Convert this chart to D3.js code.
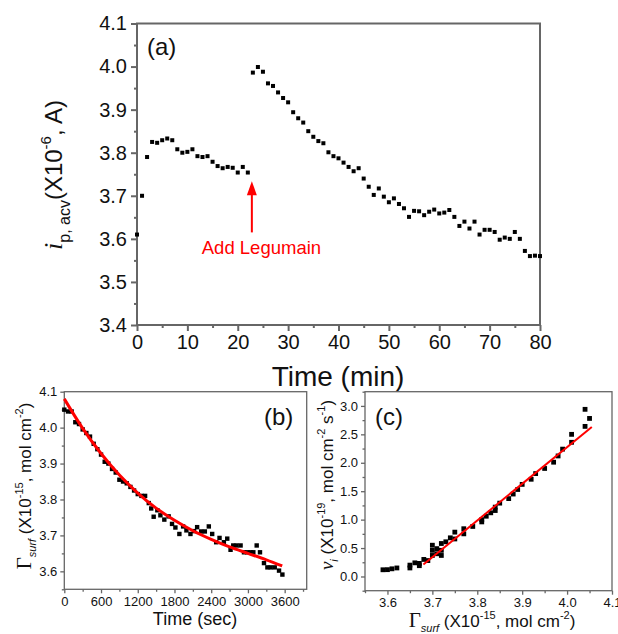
<!DOCTYPE html>
<html><head><meta charset="utf-8">
<script src="https://cdn.jsdelivr.net/npm/d3@7"></script>
<style>body{margin:0;background:#fff}svg{display:block}text{font-family:Arial,"Liberation Sans",sans-serif}</style>
</head><body>
<svg id="c" width="618" height="634"></svg>
<script>
// ---------- Panel (a) data ----------
const timeMin = [0,1,2,3,4,5,6,7,8,9,10,11,12,13,14,15,16,17,18,19,20,21,22,
  23,24,25,26,27,28,29,30,31,32,33,34,35,36,37,38,39,40,41,42,43,44,45,46,47,48,49,50,
  51,52,53,54,55,56,57,58,59,60,61,62,63,64,65,66,67,68,69,70,71,72,73,74,75,76,77,78,79,80];
const currentA = [3.61,3.70,3.79,3.825,3.823,3.829,3.833,3.829,3.808,3.800,3.802,3.808,3.792,3.790,3.792,3.779,3.769,3.764,3.767,3.765,3.754,3.767,3.754,
  3.986,3.999,3.988,3.961,3.955,3.940,3.927,3.917,3.894,3.880,3.870,3.850,3.837,3.827,3.822,3.801,3.792,3.787,3.777,3.767,3.757,3.764,3.740,3.721,3.702,3.717,3.698,3.685,
  3.694,3.681,3.671,3.651,3.665,3.664,3.655,3.663,3.668,3.659,3.661,3.667,3.651,3.630,3.640,3.624,3.640,3.610,3.621,3.621,3.616,3.598,3.603,3.600,3.616,3.600,3.572,3.560,3.561,3.560];
const xTicksA = [0,10,20,30,40,50,60,70,80];
const yTicksA = [3.4,3.5,3.6,3.7,3.8,3.9,4.0,4.1];
const arrowA = {t:22.8, tip:3.734, tail:3.615};
const noteA = {t:24.7, v:3.565, text:"Add Legumain"};

// ---------- Panel (b) data ----------
const timeSec = [0,60,120,180,240,300,360,420,480,540,600,660,720,780,840,900,960,1020,1080,1140,1200,1260,1320,1380,1420,1460,1520,1570,1634,1705,1760,1815,1880,1941,1995,2061,2120,2170,2236,2296,2361,2416,2481,2536,2607,2662,2716,2760,2815,2880,2935,2990,3044,3088,3143,3197,3262,3318,3372,3438,3508,3563];
const gammaB = [4.05,4.045,4.045,4.015,4.01,3.995,3.985,3.975,3.955,3.94,3.925,3.905,3.9,3.885,3.875,3.855,3.85,3.845,3.835,3.825,3.815,3.81,3.81,3.79,3.775,3.752,3.77,3.756,3.744,3.753,3.732,3.722,3.704,3.725,3.714,3.704,3.712,3.723,3.711,3.711,3.725,3.704,3.681,3.693,3.681,3.691,3.660,3.672,3.672,3.672,3.653,3.653,3.653,3.653,3.672,3.653,3.623,3.611,3.611,3.611,3.602,3.591];
const fitTimeB = [0,300,600,900,1200,1500,1800,2100,2400,2700,3000,3300,3560];
const fitGammaB = [4.08,3.998,3.928,3.868,3.818,3.776,3.742,3.713,3.689,3.668,3.650,3.632,3.615];
const xTicksB = [0,600,1200,1800,2400,3000,3600];
const yTicksB = [3.6,3.7,3.8,3.9,4.0,4.1];

// ---------- Panel (c) data ----------
const gammaC = [3.590,3.600,3.610,3.621,3.650,3.650,3.661,3.671,3.671,3.681,3.690,3.700,3.700,3.700,3.710,3.710,3.720,3.720,3.720,3.730,3.740,3.750,3.750,3.770,3.770,3.790,3.810,3.810,3.820,3.830,3.840,3.840,3.850,3.870,3.880,3.890,3.900,3.920,3.930,3.950,3.970,3.980,3.990,4.010,4.010,4.040,4.040,4.050];
const rateC = [0.118,0.12,0.135,0.15,0.15,0.20,0.24,0.19,0.23,0.30,0.28,0.37,0.55,0.46,0.40,0.49,0.37,0.58,0.46,0.61,0.68,0.66,0.78,0.75,0.84,0.88,0.96,1.00,1.06,1.12,1.16,1.22,1.29,1.37,1.45,1.53,1.62,1.71,1.81,1.90,2.01,2.12,2.24,2.36,2.50,2.64,2.94,2.78];
const fitGammaC = [3.68,4.055];
const fitRateC = [0.21,2.63];
const xTicksC = [3.6,3.7,3.8,3.9,4.0,4.1];
const yTicksC = [0.0,0.5,1.0,1.5,2.0,2.5,3.0];

// ---------- drawing ----------
const svg = d3.select("#c");
const AX = "#666";

function richText(sel, parts, base) {
  let cur = 0;
  parts.forEach(p => {
    const shift = p.s === "sub" ? 0.32*base : p.s === "sup" ? -0.45*base : 0;
    const ts = sel.append("tspan").attr("dy", shift - cur).text(p.t)
      .attr("font-size", p.size || (p.s ? base*0.65 : base));
    cur = shift;
    if (p.i) ts.attr("font-style", "italic");
    if (p.f) ts.attr("font-family", p.f);
  });
}

function panel(o) {
  const g = svg.append("g");
  const [x0, x1] = o.x.range(), [y0, y1] = o.y.range();
  g.append("g").attr("transform", `translate(0,${y0})`)
    .call(d3.axisBottom(o.x).tickValues(o.xMinor).tickSize(o.minor).tickFormat(""))
    .call(s => { s.select(".domain").remove(); s.selectAll("line").attr("stroke", AX).attr("stroke-width", o.sw); });
  g.append("g").attr("transform", `translate(${x0},0)`)
    .call(d3.axisLeft(o.y).tickValues(o.yMinor).tickSize(o.minor).tickFormat(""))
    .call(s => { s.select(".domain").remove(); s.selectAll("line").attr("stroke", AX).attr("stroke-width", o.sw); });
  g.append("g").attr("transform", `translate(0,${y0})`)
    .call(d3.axisBottom(o.x).tickValues(o.xTicks).tickSize(o.major).tickPadding(o.xPad).tickFormat(o.xFmt))
    .call(s => { s.select(".domain").remove(); s.selectAll("line").attr("stroke", AX).attr("stroke-width", o.sw);
      s.selectAll("text").attr("font-size", o.fs).attr("fill", "#111").attr("font-family", "Arial, 'Liberation Sans', sans-serif"); });
  g.append("g").attr("transform", `translate(${x0},0)`)
    .call(d3.axisLeft(o.y).tickValues(o.yTicks).tickSize(o.major).tickPadding(o.yPad).tickFormat(o.yFmt))
    .call(s => { s.select(".domain").remove(); s.selectAll("line").attr("stroke", AX).attr("stroke-width", o.sw);
      s.selectAll("text").attr("font-size", o.fs).attr("fill", "#111").attr("font-family", "Arial, 'Liberation Sans', sans-serif"); });
  g.append("rect").attr("x", x0).attr("y", y1).attr("width", x1 - x0).attr("height", y0 - y1)
    .attr("fill", "none").attr("stroke", AX).attr("stroke-width", o.sw);
  return g;
}

// Panel (a)
const xA = d3.scaleLinear().domain([0, 80]).range([137, 540]);
const yA = d3.scaleLinear().domain([3.4, 4.1]).range([325, 23.5]);
panel({x: xA, y: yA, xTicks: xTicksA, yTicks: yTicksA,
  xMinor: [5,15,25,35,45,55,65,75], yMinor: [3.45,3.55,3.65,3.75,3.85,3.95,4.05],
  major: 6, minor: 3, sw: 2, fs: 20, xPad: 4, yPad: 4,
  xFmt: d3.format("d"), yFmt: d3.format(".1f")});
svg.append("g").selectAll("rect").data(timeMin.map((t, i) => [t, currentA[i]])).join("rect")
  .attr("x", d => xA(d[0]) - 2).attr("y", d => yA(d[1]) - 2).attr("width", 4).attr("height", 4).attr("fill", "#000");
svg.append("line").attr("x1", xA(arrowA.t)).attr("x2", xA(arrowA.t))
  .attr("y1", yA(arrowA.tail)).attr("y2", yA(arrowA.tip) + 10).attr("stroke", "#f00").attr("stroke-width", 2);
svg.append("path").attr("d", `M${xA(arrowA.t)},${yA(arrowA.tip)} l-5,14 l10,0 z`).attr("fill", "#f00");
svg.append("text").attr("x", xA(noteA.t)).attr("y", yA(noteA.v)).attr("text-anchor", "middle")
  .attr("font-size", 18.5).attr("fill", "#f00").text(noteA.text);
svg.append("text").attr("x", 147).attr("y", 55).attr("font-size", 24).attr("fill", "#111").text("(a)");
svg.append("text").attr("x", 338).attr("y", 386).attr("text-anchor", "middle").attr("font-size", 28).attr("fill", "#111").text("Time (min)");
const ylA = svg.append("text").attr("transform", "translate(62,175) rotate(-90)").attr("text-anchor", "middle").attr("fill", "#111");
richText(ylA, [{t: "i", i: true, size: 26, f: "'Liberation Serif', serif"}, {t: "p, acv", s: "sub", size: 16}, {t: "(X10"}, {t: "-6", s: "sup", size: 15}, {t: ", A)"}], 24);

// Panel (b)
const xB = d3.scaleLinear().domain([0, 3960]).range([64.3, 306.7]);
const yB = d3.scaleLinear().domain([3.55, 4.1]).range([589.3, 391.7]);
panel({x: xB, y: yB, xTicks: xTicksB, yTicks: yTicksB,
  xMinor: [300,900,1500,2100,2700,3300,3900], yMinor: [3.55,3.65,3.75,3.85,3.95,4.05],
  major: 4, minor: 2.5, sw: 1.3, fs: 13, xPad: 3, yPad: 3,
  xFmt: d3.format("d"), yFmt: d3.format(".1f")});
svg.append("g").selectAll("rect").data(timeSec.map((t, i) => [t, gammaB[i]])).join("rect")
  .attr("x", d => xB(d[0]) - 2.2).attr("y", d => yB(d[1]) - 2.2).attr("width", 4.4).attr("height", 4.4).attr("fill", "#000");
svg.append("path").datum(fitTimeB.map((t, i) => [t, fitGammaB[i]]))
  .attr("d", d3.line().x(d => xB(d[0])).y(d => yB(d[1])).curve(d3.curveMonotoneX))
  .attr("fill", "none").attr("stroke", "#f00").attr("stroke-width", 3);
svg.append("text").attr("x", 264).attr("y", 425).attr("font-size", 24).attr("fill", "#111").text("(b)");
svg.append("text").attr("x", 195).attr("y", 625).attr("text-anchor", "middle").attr("font-size", 18).attr("fill", "#111").text("Time (sec)");
const ylB = svg.append("text").attr("transform", "translate(31,486) rotate(-90)").attr("text-anchor", "middle").attr("fill", "#111");
richText(ylB, [{t: "Γ", size: 21, f: "'Liberation Serif', serif"}, {t: "surf", s: "sub", i: true, size: 11}, {t: " (X10"}, {t: "-15", s: "sup", size: 11}, {t: ", mol cm"}, {t: "-2", s: "sup", size: 11}, {t: ")"}], 17);

// Panel (c)
const xC = d3.scaleLinear().domain([3.55, 4.1]).range([365, 612]);
const yC = d3.scaleLinear().domain([-0.25, 3.25]).range([590.7, 391.7]);
panel({x: xC, y: yC, xTicks: xTicksC, yTicks: yTicksC,
  xMinor: [3.55,3.65,3.75,3.85,3.95,4.05], yMinor: [-0.25,0.25,0.75,1.25,1.75,2.25,2.75,3.25],
  major: 4, minor: 2.5, sw: 1.3, fs: 13, xPad: 3, yPad: 3,
  xFmt: d3.format(".1f"), yFmt: d3.format(".1f")});
svg.append("g").selectAll("rect").data(gammaC.map((g, i) => [g, rateC[i]])).join("rect")
  .attr("x", d => xC(d[0]) - 2.4).attr("y", d => yC(d[1]) - 2.4).attr("width", 4.8).attr("height", 4.8).attr("fill", "#000");
svg.append("path").datum(fitGammaC.map((g, i) => [g, fitRateC[i]]))
  .attr("d", d3.line().x(d => xC(d[0])).y(d => yC(d[1])))
  .attr("fill", "none").attr("stroke", "#f00").attr("stroke-width", 2);
svg.append("text").attr("x", 375).attr("y", 425).attr("font-size", 24).attr("fill", "#111").text("(c)");
const xlC = svg.append("text").attr("x", 492).attr("y", 627).attr("text-anchor", "middle").attr("fill", "#111");
richText(xlC, [{t: "Γ", size: 21, f: "'Liberation Serif', serif"}, {t: "surf", s: "sub", i: true, size: 11}, {t: " (X10"}, {t: "-15", s: "sup", size: 11}, {t: ", mol cm"}, {t: "-2", s: "sup", size: 11}, {t: ")"}], 17);
const ylC = svg.append("text").attr("transform", "translate(333,485) rotate(-90)").attr("text-anchor", "middle").attr("fill", "#111");
richText(ylC, [{t: "ν", i: true, size: 19, f: "'Liberation Serif', serif"}, {t: "i", s: "sub", i: true, size: 11}, {t: " (X10"}, {t: "-19", s: "sup", size: 11}, {t: ", mol cm"}, {t: "-2", s: "sup", size: 11}, {t: " s"}, {t: "-1", s: "sup", size: 11}, {t: ")"}], 17);
</script>
</body></html>
